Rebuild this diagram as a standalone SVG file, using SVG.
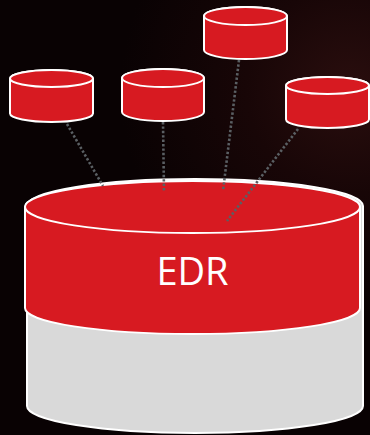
<svg xmlns="http://www.w3.org/2000/svg" width="370" height="435" viewBox="0 0 370 435">
  <defs>
    <radialGradient id="bg" cx="350" cy="90" r="230" gradientUnits="userSpaceOnUse">
      <stop offset="0" stop-color="#2a0e0e"/>
      <stop offset="0.45" stop-color="#180607"/>
      <stop offset="1" stop-color="#090203"/>
    </radialGradient>
    <style>
      .red { fill: #d71a21; stroke: #ffffff; stroke-width: 2; }
      .grey { fill: #d9d9d9; stroke: #ffffff; stroke-width: 2; }
      .conn { stroke: #5a5f63; stroke-width: 2.6; stroke-dasharray: 2.4 2; fill: none; }
      .label { font-family: "Open Sans", "Liberation Sans", sans-serif; font-size: 38px; fill: #ffffff; text-anchor: middle; }
    </style>
  </defs>
  <rect x="0" y="0" width="370" height="435" fill="url(#bg)"/>

  <g id="edr">
    <path class="grey" d="M27,206 A168,27 0 0 1 363,206 L363,406 A168,27 0 0 1 27,406 Z"/>
    <path class="red" d="M25,207 A167.5,26 0 0 1 360,207 L360,308 A167.5,26 0 0 1 25,308 Z"/>
    <ellipse class="red" cx="192.5" cy="207" rx="167.5" ry="26"/>
    <text class="label" x="192.5" y="285">EDR</text>
  </g>

  <g id="connectors">
    <line class="conn" x1="67" y1="124" x2="103" y2="186"/>
    <line class="conn" x1="163" y1="122" x2="164" y2="192"/>
    <line class="conn" x1="239" y1="60" x2="223" y2="191"/>
    <line class="conn" x1="298" y1="129" x2="227" y2="221"/>
  </g>

  <g id="db1">
    <path class="red" d="M10,78.5 A41.5,8.5 0 0 1 93,78.5 L93,113.5 A41.5,8.5 0 0 1 10,113.5 Z"/>
    <ellipse class="red" cx="51.5" cy="78.5" rx="41.5" ry="8.5"/>
  </g>
  <g id="db2">
    <path class="red" d="M122,78 A41,9 0 0 1 204,78 L204,112 A41,9 0 0 1 122,112 Z"/>
    <ellipse class="red" cx="163" cy="78" rx="41" ry="9"/>
  </g>
  <g id="db3">
    <path class="red" d="M204,16 A41.5,9 0 0 1 287,16 L287,50 A41.5,9 0 0 1 204,50 Z"/>
    <ellipse class="red" cx="245.5" cy="16" rx="41.5" ry="9"/>
  </g>
  <g id="db4">
    <path class="red" d="M286,85.5 A41.5,8.5 0 0 1 369,85.5 L369,119.5 A41.5,8.5 0 0 1 286,119.5 Z"/>
    <ellipse class="red" cx="327.5" cy="85.5" rx="41.5" ry="8.5"/>
  </g>
</svg>
